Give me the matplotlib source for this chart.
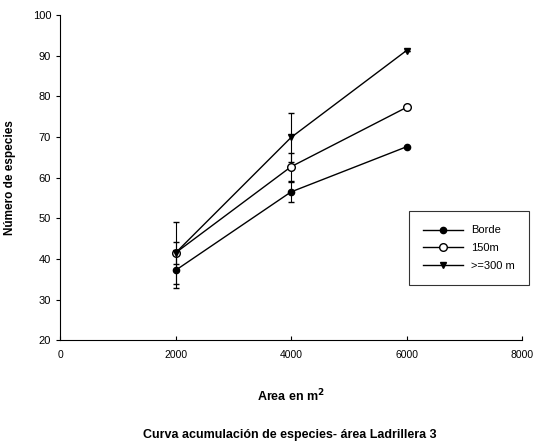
import matplotlib.pyplot as plt

plt.rcParams['font.family'] = ['Liberation Sans', 'DejaVu Sans']

# Area sampled (m2)
area = [2000, 4000, 6000]

# Accumulated species per distance from border
borde = [37.2, 56.5, 67.6]
m150 = [41.5, 62.7, 77.3]
m300 = [41.5, 69.9, 91.3]

# Error bars (none at 6000)
borde_err = [4.4, 2.4, 0]
m150_err = [2.7, 3.4, 0]
m300_err = [7.6, 6.1, 0]

labels = ['Borde', '150m', '>=300 m']

fig = plt.figure(figsize=(5.42, 4.47), dpi=100)
ax = fig.add_axes([0.111, 0.239, 0.852, 0.727])

series = [(borde, borde_err, 'o', 'black', 4.5),
          (m150, m150_err, 'o', 'white', 5.5),
          (m300, m300_err, 'v', 'black', 5)]
for (vals, err, mk, fc, ms), lab in zip(series, labels):
    ax.errorbar(area, vals, yerr=err, fmt='none', ecolor='black',
                elinewidth=0.8, capsize=2.5)
    ax.plot(area, vals, color='black', marker=mk, markersize=ms, mfc=fc,
            mec='black', lw=1, label=lab)

ax.set_xlim(0, 8000)
ax.set_ylim(20, 100)
ax.set_xticks([0, 2000, 4000, 6000, 8000])
ax.set_yticks(range(20, 101, 10))
ax.spines['top'].set_visible(False)
ax.spines['right'].set_visible(False)
ax.tick_params(axis='x', direction='in', length=3, labelsize=7.5, pad=7)
ax.tick_params(axis='y', direction='out', length=3, labelsize=8)

ax.set_ylabel('Número de especies', fontsize=8.5, fontweight='bold', labelpad=12)
ax.set_xlabel(r'Area en m$^{\mathbf{2}}$', fontsize=9, fontweight='bold', labelpad=20)
fig.text(0.535, 0.027, 'Curva acumulación de especies- área Ladrillera 3',
         ha='center', va='center', fontsize=9, fontweight='bold')

leg = ax.legend(loc='upper left', bbox_to_anchor=(409 / 542, 1 - 211 / 447),
                bbox_transform=fig.transFigure, fontsize=8, frameon=True,
                fancybox=False, edgecolor='black', handlelength=3.6,
                borderpad=1.3, labelspacing=0.7, handletextpad=0.7,
                borderaxespad=0)
leg.get_frame().set_linewidth(0.8)

fig.savefig('out.png', dpi=100)
